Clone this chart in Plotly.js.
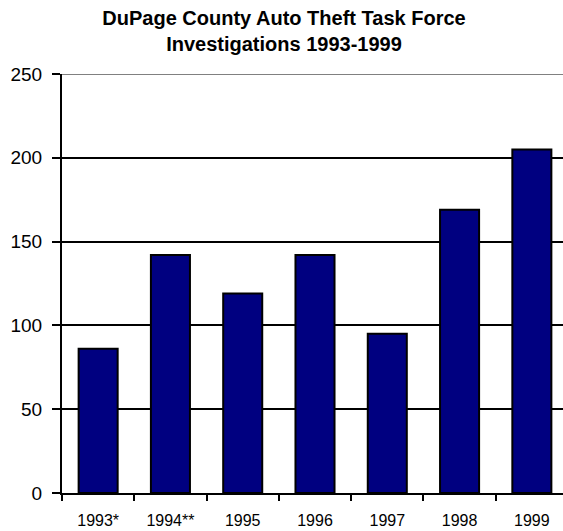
<!DOCTYPE html>
<html>
<head>
<meta charset="utf-8">
<script src="https://cdn.plot.ly/plotly-3.0.1.min.js"></script>
<style>html,body{margin:0;padding:0;overflow:hidden;background:#fff;}</style>
</head>
<body>
<div id="chart" style="width:568px;height:531px;"></div>
<script>
var years = ["1993*", "1994**", "1995", "1996", "1997", "1998", "1999"];
var investigations = [86, 142, 119, 142, 95, 169, 205];
var yTicks = [0, 50, 100, 150, 200, 250];

var trace = {
  type: "bar",
  x: years,
  y: investigations,
  marker: {color: "#000080", line: {color: "#000000", width: 2}},
  hoverinfo: "x+y"
};

var layout = {
  width: 568,
  height: 531,
  margin: {l: 62, r: 0, t: 74, b: 37.5, pad: 0},
  paper_bgcolor: "#ffffff",
  plot_bgcolor: "#ffffff",
  bargap: 0.46,
  showlegend: false,
  title: {
    text: "<b>DuPage County Auto Theft Task Force<br>Investigations 1993-1999</b>",
    font: {family: "Liberation Sans, Arial, sans-serif", size: 20, color: "#000"},
    x: 0.5, xanchor: "center", y: 0.952, yanchor: "top"
  },
  xaxis: {
    type: "category",
    showline: true, linecolor: "#000", linewidth: 2,
    ticks: "outside", tickson: "boundaries", ticklen: 6, tickwidth: 2, tickcolor: "#000",
    ticklabelstandoff: 12,
    tickfont: {family: "Liberation Sans, Arial, sans-serif", size: 16, color: "#000"},
    showgrid: false, zeroline: false, fixedrange: true
  },
  yaxis: {
    range: [0, 250],
    tickvals: yTicks,
    showline: true, linecolor: "#000", linewidth: 2,
    ticks: "outside", ticklen: 8, tickwidth: 2, tickcolor: "#000",
    ticklabelstandoff: 6,
    tickfont: {family: "Liberation Sans, Arial, sans-serif", size: 19, color: "#000"},
    showgrid: true, gridcolor: "#000", gridwidth: 2,
    zeroline: false, fixedrange: true
  },
  shapes: [{
    type: "line", xref: "paper", yref: "y", x0: 0, x1: 1, y0: 250, y1: 250,
    line: {color: "#808080", width: 2}
  }]
};

Plotly.newPlot("chart", [trace], layout, {displayModeBar: false, staticPlot: true});
</script>
</body>
</html>
